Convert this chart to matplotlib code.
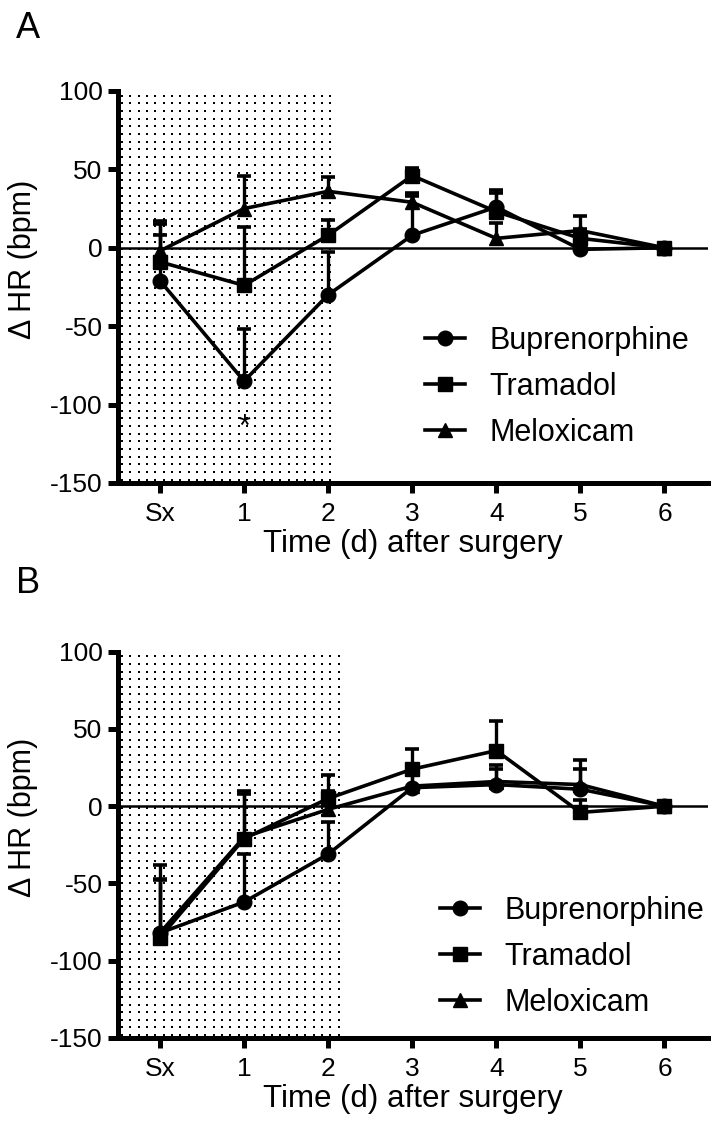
import matplotlib
matplotlib.use("Agg")
import matplotlib.pyplot as plt
import numpy as np

plt.rcParams['font.family'] = ['Liberation Sans', 'DejaVu Sans']
plt.rcParams['axes.unicode_minus'] = False

# Data
days = [0, 1, 2, 3, 4, 5, 6]
day_labels = ["Sx", "1", "2", "3", "4", "5", "6"]
drugs = ["Buprenorphine", "Tramadol", "Meloxicam"]
markers = ["o", "s", "^"]

# Panel A
a_bup = [-21, -85, -30, 8, 26, -1, 0]
a_bup_err = [38, 33, 27, 25, 11, 8, 0]
a_tram = [-9, -24, 8, 46, 23, 6, 0]
a_tram_err = [24, 37, 10, 5, 12, 6, 0]
a_melox = [-2, 25, 36, 29, 6, 11, 0]
a_melox_err = [10, 21, 9, 6, 10, 9, 0]

# Panel B
b_bup = [-82, -62, -31, 12, 14, 11, 0]
b_bup_err = [44, 31, 21, 8, 13, 13, 0]
b_tram = [-85, -21, 5, 24, 36, -4, 0]
b_tram_err = [38, 31, 15, 13, 19, 8, 0]
b_melox = [-82, -20, -2, 13, 16, 14, 0]
b_melox_err = [34, 28, 12, 8, 8, 16, 0]

yticks = [-150, -100, -50, 0, 50, 100]


def draw_panel(ax, series, errs, shade_end):
    # dotted shading for the post-op period
    gx, gy = np.meshgrid(np.arange(-0.45, shade_end + 0.08, 0.099),
                         np.arange(97, -150, -4.9))
    ax.scatter(gx.ravel(), gy.ravel(), s=1.6, marker='s', color='black',
               linewidths=0, zorder=0)
    ax.axhline(0, color='black', lw=1.8, zorder=1)
    handles = []
    for vals, err, m, name in zip(series, errs, markers, drugs):
        eb = ax.errorbar(days, vals, yerr=[np.zeros(len(err)), err],
                         color='black', lw=2.6, marker=m, ms=10.5,
                         elinewidth=2.4, capsize=5, capthick=2.6,
                         label=name, zorder=3)
        eb[1][0].set_visible(False)
        handles.append(eb[0])
    ax.set_xlim(-0.5, 6.52)
    ax.set_ylim(-150, 100)
    ax.set_xticks(days)
    ax.set_xticklabels(day_labels)
    ax.set_yticks(yticks)
    for side in ['top', 'right']:
        ax.spines[side].set_visible(False)
    for side in ['left', 'bottom']:
        ax.spines[side].set_linewidth(3.6)
        ax.spines[side].set_capstyle('projecting')
    ax.tick_params(width=3.6, length=7, labelsize=19, pad=4)
    ax.tick_params(axis='x', pad=7)
    ax.set_xlabel("Time (d) after surgery", fontsize=22.5, labelpad=2)
    ax.set_ylabel("\u0394 HR (bpm)", fontsize=22)
    ax.yaxis.set_label_coords(-0.135, 0.57)
    return handles


fig = plt.figure(figsize=(7.19, 11.37), dpi=100)
axA = fig.add_axes([0.164, 0.5752, 0.821, 0.3448])
axB = fig.add_axes([0.164, 0.0871, 0.821, 0.3397])

hA = draw_panel(axA, [a_bup, a_tram, a_melox],
                [a_bup_err, a_tram_err, a_melox_err], 2.04)
hB = draw_panel(axB, [b_bup, b_tram, b_melox],
                [b_bup_err, b_tram_err, b_melox_err], 2.1)

axA.text(1, -115, "*", ha='center', va='center', fontsize=22)

legend_kw = dict(frameon=False, fontsize=22, handlelength=1.3,
                 handletextpad=0.8, labelspacing=0.52, borderpad=0,
                 borderaxespad=0, loc='upper left',
                 bbox_transform=fig.transFigure)
fig.legend(hA, drugs, bbox_to_anchor=(0.591, 0.7133), **legend_kw)
fig.legend(hB, drugs, bbox_to_anchor=(0.612, 0.2120), **legend_kw)

fig.text(0.022, 1 - 38 / 1137, "A", fontsize=26, va='baseline')
fig.text(0.022, 1 - 593 / 1137, "B", fontsize=26, va='baseline')

fig.savefig("out.png", dpi=100)
